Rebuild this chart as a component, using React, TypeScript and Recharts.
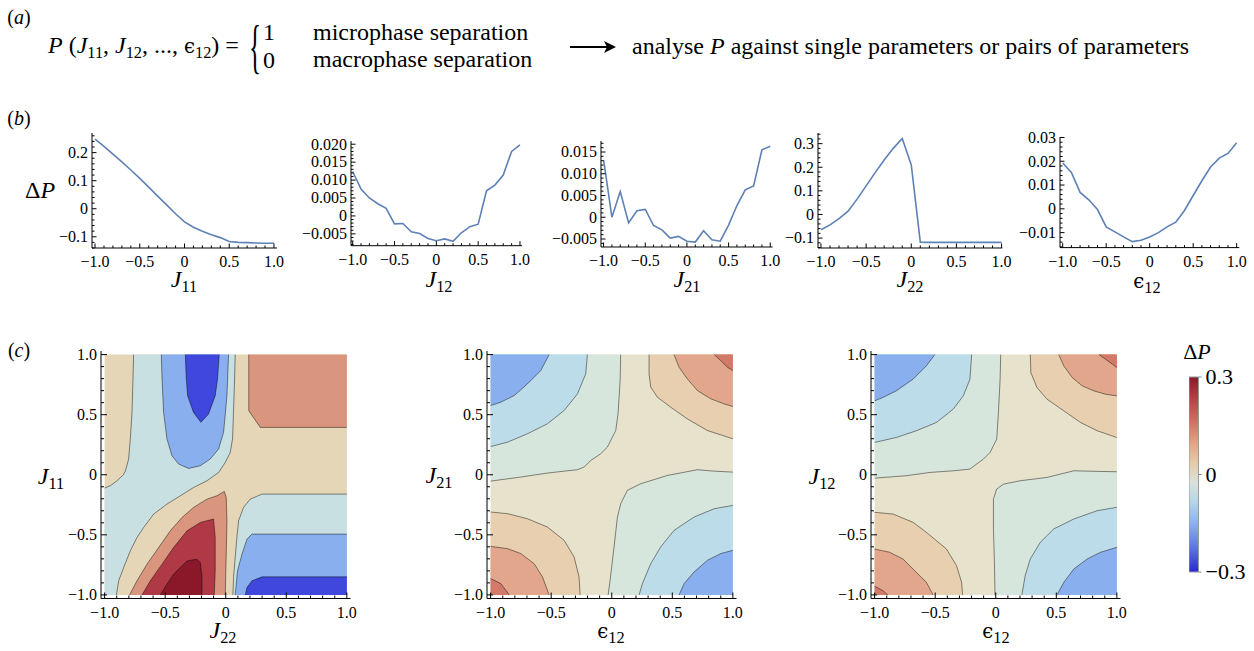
import React from 'react';
import { ComposedChart, LineChart, Line, Area, XAxis, YAxis, ReferenceArea } from 'recharts';

type Pt = [number, number];
interface Band {
  level: number;
  pts: Pt[];
}

const SERIF = '"Liberation Serif", "Times New Roman", Times, serif';
const INK = '#000';
const CURVE = '#5E81B5';

// (b) ΔP against one parameter, sampled every 0.1
const PARAM_STEPS = [-1, -0.9, -0.8, -0.7, -0.6, -0.5, -0.4, -0.3, -0.2, -0.1, 0, 0.1, 0.2, 0.3, 0.4, 0.5, 0.6, 0.7, 0.8, 0.9, 1];
const DP_J11 = [0.248, 0.222, 0.195, 0.167, 0.138, 0.108, 0.077, 0.045, 0.014, -0.018, -0.047, -0.066, -0.08, -0.093, -0.103, -0.117, -0.12, -0.121, -0.122, -0.123, -0.123];
const DP_J12 = [0.0124, 0.0075, 0.005, 0.0034, 0.0021, -0.0022, -0.0021, -0.0044, -0.0049, -0.0063, -0.0069, -0.0064, -0.0071, -0.0047, -0.003, -0.0023, 0.007, 0.0086, 0.0114, 0.018, 0.0198];
const DP_J21 = [0.0132, 0, 0.0059, -0.0013, 0.0015, 0.0018, -0.0019, -0.0029, -0.0048, -0.0044, -0.0055, -0.0057, -0.0031, -0.0052, -0.0055, -0.0018, 0.0027, 0.0063, 0.0072, 0.0155, 0.0163];
const DP_J22 = [-0.065, -0.044, -0.018, 0.014, 0.065, 0.121, 0.177, 0.231, 0.28, 0.322, 0.21, -0.117, -0.118, -0.118, -0.118, -0.118, -0.118, -0.118, -0.118, -0.118, -0.118];
const DP_EPS12 = [0.0193, 0.0153, 0.0069, 0.0038, -0.0003, -0.0076, -0.0097, -0.0118, -0.0138, -0.0132, -0.0118, -0.01, -0.0076, -0.0056, -0.0007, 0.0056, 0.0118, 0.0176, 0.0213, 0.0233, 0.0278];

// (c) contour bands: ΔP level of the band and its outline in parameter space
const MAP_J22_J11: Band[] = [
  { level: 0.05, pts: [[-1, -1], [1, -1], [1, 1], [-1, 1]] },
  { level: -0.05, pts: [[-1, -0.11], [-0.953, -0.092], [-0.898, -0.05], [-0.845, 0], [-0.829, 0.03], [-0.802, 0.131], [-0.788, 0.297], [-0.774, 0.519], [-0.766, 0.797], [-0.761, 1], [0.078, 1], [0.073, 0.797], [0.064, 0.519], [0.056, 0.297], [0.037, 0.186], [-0.004, 0.103], [-0.059, 0.019], [-0.155, -0.05], [-0.266, -0.106], [-0.375, -0.175], [-0.485, -0.244], [-0.596, -0.328], [-0.678, -0.439], [-0.733, -0.522], [-0.788, -0.633], [-0.843, -0.772], [-0.884, -0.883], [-0.903, -1], [-1, -1]] },
  { level: -0.05, pts: [[1, -0.161], [0.3, -0.161], [0.202, -0.203], [0.147, -0.272], [0.106, -0.383], [0.092, -0.522], [0.078, -0.689], [0.064, -0.856], [0.059, -1], [1, -1]] },
  { level: -0.15, pts: [[-0.532, 1], [-0.526, 0.797], [-0.513, 0.519], [-0.485, 0.297], [-0.444, 0.158], [-0.389, 0.089], [-0.307, 0.053], [-0.21, 0.075], [-0.128, 0.131], [-0.059, 0.214], [-0.018, 0.353], [0.01, 0.658], [0.023, 1]] },
  { level: -0.15, pts: [[1, -0.494], [0.216, -0.494], [0.175, -0.536], [0.134, -0.661], [0.097, -0.8], [0.078, -1], [1, -1]] },
  { level: -0.25, pts: [[-0.334, 1], [-0.326, 0.797], [-0.315, 0.658], [-0.266, 0.519], [-0.205, 0.436], [-0.142, 0.506], [-0.087, 0.658], [-0.068, 0.797], [-0.054, 1]] },
  { level: -0.25, pts: [[1, -0.85], [0.3, -0.85], [0.216, -0.883], [0.175, -0.939], [0.161, -1], [1, -1]] },
  { level: 0.15, pts: [[0.19, 1], [0.19, 0.533], [0.285, 0.394], [1, 0.394], [1, 1]] },
  { level: 0.15, pts: [[-0.794, -1], [-0.733, -0.883], [-0.65, -0.744], [-0.554, -0.606], [-0.458, -0.467], [-0.361, -0.356], [-0.266, -0.272], [-0.155, -0.203], [-0.073, -0.175], [-0.012, -0.139], [0.004, -0.189], [0.01, -0.383], [0.004, -0.661], [-0.004, -1]] },
  { level: 0.22, pts: [[-0.691, -1], [-0.623, -0.883], [-0.526, -0.744], [-0.431, -0.606], [-0.32, -0.467], [-0.21, -0.397], [-0.101, -0.369], [-0.087, -0.522], [-0.087, -0.8], [-0.095, -1]] },
  { level: 0.28, pts: [[-0.54, -1], [-0.485, -0.911], [-0.431, -0.828], [-0.375, -0.772], [-0.32, -0.717], [-0.238, -0.703], [-0.21, -0.731], [-0.196, -0.856], [-0.196, -1]] },
];

const MAP_EPS_J21: Band[] = [
  { level: 0.02, pts: [[-1, -1], [1, -1], [1, 1], [-1, 1]] },
  { level: -0.03, pts: [[-1, -0.053], [-0.751, -0.019], [-0.531, 0.014], [-0.393, 0.03], [-0.283, 0.042], [-0.228, 0.064], [-0.173, 0.119], [-0.091, 0.175], [-0.036, 0.23], [0.033, 0.368], [0.052, 0.507], [0.069, 0.784], [0.074, 1], [-1, 1]] },
  { level: -0.09, pts: [[-1, 0.235], [-0.861, 0.271], [-0.696, 0.341], [-0.531, 0.424], [-0.393, 0.535], [-0.283, 0.673], [-0.215, 0.839], [-0.201, 1], [-1, 1]] },
  { level: -0.15, pts: [[-1, 0.576], [-0.916, 0.604], [-0.806, 0.659], [-0.696, 0.756], [-0.586, 0.867], [-0.517, 1], [-1, 1]] },
  { level: -0.03, pts: [[1, -1], [1, 0.022], [0.845, 0.03], [0.707, 0.042], [0.459, -0.006], [0.239, -0.075], [0.129, -0.13], [0.074, -0.241], [0.047, -0.352], [0.019, -0.601], [-0.017, -0.906], [-0.03, -1]] },
  { level: -0.09, pts: [[1, -1], [1, -0.255], [0.845, -0.283], [0.68, -0.352], [0.514, -0.463], [0.404, -0.601], [0.322, -0.74], [0.253, -0.906], [0.226, -1]] },
  { level: -0.15, pts: [[1, -1], [1, -0.629], [0.9, -0.656], [0.79, -0.712], [0.68, -0.809], [0.597, -0.906], [0.556, -1]] },
  { level: 0.07, pts: [[1, 1], [0.308, 1], [0.308, 0.839], [0.322, 0.729], [0.377, 0.645], [0.487, 0.562], [0.624, 0.465], [0.79, 0.368], [1, 0.299]] },
  { level: 0.12, pts: [[1, 1], [0.514, 1], [0.556, 0.895], [0.624, 0.798], [0.707, 0.701], [0.817, 0.632], [0.927, 0.59], [1, 0.568]] },
  { level: 0.17, pts: [[1, 1], [0.845, 1], [0.9, 0.95], [0.955, 0.895], [1, 0.867]] },
  { level: 0.07, pts: [[-1, -1], [-1, -0.31], [-0.861, -0.324], [-0.696, -0.366], [-0.531, -0.435], [-0.393, -0.546], [-0.311, -0.684], [-0.27, -0.85], [-0.261, -1]] },
  { level: 0.12, pts: [[-1, -1], [-1, -0.596], [-0.861, -0.615], [-0.751, -0.656], [-0.641, -0.74], [-0.572, -0.85], [-0.517, -1]] },
  { level: 0.17, pts: [[-1, -1], [-1, -0.864], [-0.916, -0.906], [-0.875, -0.961], [-0.847, -1]] },
];

const MAP_EPS_J12: Band[] = [
  { level: 0.02, pts: [[-1, -1], [1, -1], [1, 1], [-1, 1]] },
  { level: -0.03, pts: [[-1, -0.028], [-0.739, -0.008], [-0.545, 0.019], [-0.351, 0.033], [-0.213, 0.047], [-0.158, 0.089], [-0.102, 0.13], [-0.047, 0.186], [0.008, 0.296], [0.022, 0.518], [0.036, 0.795], [0.041, 1], [-1, 1]] },
  { level: -0.09, pts: [[-1, 0.269], [-0.822, 0.31], [-0.656, 0.366], [-0.49, 0.435], [-0.351, 0.546], [-0.268, 0.657], [-0.213, 0.795], [-0.199, 1], [-1, 1]] },
  { level: -0.15, pts: [[-1, 0.615], [-0.932, 0.643], [-0.822, 0.698], [-0.683, 0.795], [-0.573, 0.906], [-0.503, 1], [-1, 1]] },
  { level: -0.03, pts: [[1, -1], [1, 0.025], [0.838, 0.028], [0.645, 0.033], [0.423, -0.022], [0.202, -0.05], [0.064, -0.078], [0.008, -0.119], [-0.019, -0.202], [-0.019, -0.451], [-0.011, -0.729], [-0.006, -1]] },
  { level: -0.09, pts: [[1, -1], [1, -0.271], [0.838, -0.299], [0.645, -0.368], [0.479, -0.451], [0.368, -0.562], [0.285, -0.701], [0.243, -0.839], [0.216, -1]] },
  { level: -0.15, pts: [[1, -1], [1, -0.604], [0.866, -0.645], [0.755, -0.701], [0.645, -0.784], [0.562, -0.895], [0.506, -1]] },
  { level: 0.07, pts: [[1, 1], [0.285, 1], [0.29, 0.85], [0.34, 0.726], [0.423, 0.629], [0.562, 0.532], [0.7, 0.435], [0.838, 0.366], [1, 0.31]] },
  { level: 0.12, pts: [[1, 1], [0.52, 1], [0.562, 0.906], [0.631, 0.809], [0.714, 0.74], [0.811, 0.698], [0.907, 0.67], [1, 0.657]] },
  { level: 0.17, pts: [[1, 1], [0.852, 1], [0.907, 0.961], [0.963, 0.92], [1, 0.892]] },
  { level: 0.07, pts: [[-1, -1], [-1, -0.313], [-0.849, -0.327], [-0.683, -0.396], [-0.573, -0.479], [-0.407, -0.618], [-0.324, -0.756], [-0.282, -0.895], [-0.274, -1]] },
  { level: 0.12, pts: [[-1, -1], [-1, -0.618], [-0.877, -0.645], [-0.766, -0.701], [-0.656, -0.812], [-0.573, -0.895], [-0.517, -1]] },
  { level: 0.17, pts: [[-1, -1], [-1, -0.928], [-0.932, -0.964], [-0.891, -1]] },
];

const COLORBAR_TICKS = [-0.3, 0, 0.3];

// thermometer-like fills for each contour level
const BAND_FILL: Record<string, string> = {
  '-0.25': '#3F47DC',
  '-0.15': '#8AAFEF',
  '-0.09': '#BCDCEA',
  '-0.05': '#C9E0E3',
  '-0.03': '#D7E6DD',
  '0.02': '#E6E2CC',
  '0.05': '#E5D6B8',
  '0.07': '#E8CFAF',
  '0.12': '#E1A68B',
  '0.15': '#D9957E',
  '0.17': '#D27A69',
  '0.22': '#AF3A45',
  '0.28': '#8A1829',
};

const range = (a: number, b: number, step: number) => {
  const out: number[] = [];
  const n = Math.round((b - a) / step);
  for (let i = 0; i <= n; i++) out.push(+(a + i * step).toFixed(5));
  return out;
};
const onMultiple = (v: number, m: number) => Math.abs(v / m - Math.round(v / m)) < 1e-6;
const fmt = (digits: number) => (v: number) =>
  Math.abs(v) < 1e-9 ? '0' : v.toFixed(digits).replace('-', '\u2212');

const X_TICKS = range(-1, 1, 0.1);

type Side = 'bottom' | 'top' | 'left' | 'right';
function tickRenderer(side: Side, major: number, label: ((v: number) => string) | null, majLen: number, minLen: number, fontSize = 16) {
  return (p: any) => {
    const { x, y, payload } = p;
    const v = payload.value as number;
    const isMajor = onMultiple(v, major);
    const len = isMajor ? majLen : minLen;
    let x2 = x;
    let y2 = y;
    if (side === 'bottom') y2 = y - len;
    else if (side === 'top') y2 = y + len;
    else if (side === 'left') x2 = x + len;
    else x2 = x - len;
    let text = null;
    if (label && isMajor && side === 'bottom') {
      text = (
        <text x={x} y={y + fontSize * 1.2} textAnchor="middle" fontSize={fontSize} fontFamily={SERIF} fill={INK}>
          {label(v)}
        </text>
      );
    } else if (label && isMajor && side === 'left') {
      text = (
        <text x={x - 4} y={y + fontSize * 0.33} textAnchor="end" fontSize={fontSize} fontFamily={SERIF} fill={INK}>
          {label(v)}
        </text>
      );
    }
    return (
      <g>
        <line x1={x} y1={y} x2={x2} y2={y2} stroke={INK} strokeWidth={1} />
        {text}
      </g>
    );
  };
}

// split a band outline into the parts that are real contour lines (not the plot border)
const onBorder = (a: Pt, b: Pt) =>
  (Math.abs(a[0]) > 0.999 && Math.abs(b[0]) > 0.999 && a[0] * b[0] > 0) ||
  (Math.abs(a[1]) > 0.999 && Math.abs(b[1]) > 0.999 && a[1] * b[1] > 0);

function contourRuns(pts: Pt[]): Pt[][] {
  const runs: Pt[][] = [];
  let cur: Pt[] = [];
  for (let i = 0; i < pts.length; i++) {
    const a = pts[i];
    const b = pts[(i + 1) % pts.length];
    if (onBorder(a, b)) {
      if (cur.length) runs.push(cur);
      cur = [];
      continue;
    }
    if (!cur.length) cur.push(a);
    cur.push(b);
  }
  if (cur.length) runs.push(cur);
  return runs;
}

const toRows = (pts: Pt[]) => pts.map(([x, y]) => ({ x, y }));

function Pos({ x, y, anchor = 'middle', size = 24, children, style }: any) {
  const tx = anchor === 'middle' ? '-50%' : anchor === 'end' ? '-100%' : '0';
  return (
    <div
      style={{
        position: 'absolute',
        left: x,
        top: y,
        transform: `translate(${tx}, -50%)`,
        fontSize: size,
        lineHeight: 1,
        fontFamily: SERIF,
        whiteSpace: 'nowrap',
        color: INK,
        ...style,
      }}
    >
      {children}
    </div>
  );
}

function Sym({ base, sub, italic = true }: { base: string; sub: string; italic?: boolean }) {
  const baseStyle = italic
    ? { fontStyle: 'italic' as const }
    : { fontFamily: '"DejaVu Serif", serif', fontSize: '0.82em' };
  return (
    <span>
      <span style={baseStyle}>{base}</span>
      <span style={{ fontSize: '0.68em', position: 'relative', top: '0.3em' }}>{sub}</span>
    </span>
  );
}

interface ScanCfg {
  values: number[];
  rect: [number, number, number, number];
  xDom: [number, number];
  yDom: [number, number];
  major: number;
  minor: number;
  digits: number;
}

const SCANS: ScanCfg[] = [
  { values: DP_J11, rect: [92, 133, 277, 248], xDom: [-1.034, 1.034], yDom: [-0.14, 0.27], major: 0.1, minor: 0.02, digits: 1 },
  { values: DP_J12, rect: [351, 141, 522, 245.7], xDom: [-1.02, 1.024], yDom: [-0.0083, 0.0209], major: 0.005, minor: 0.001, digits: 3 },
  { values: DP_J21, rect: [600.7, 140.7, 772.3, 246.7], xDom: [-1.031, 1.028], yDom: [-0.00684, 0.01753], major: 0.005, minor: 0.001, digits: 3 },
  { values: DP_J22, rect: [817.7, 133.3, 1002, 248.3], xDom: [-1.033, 1.008], yDom: [-0.142, 0.345], major: 0.1, minor: 0.02, digits: 1 },
  { values: DP_EPS12, rect: [1060, 136.7, 1239.3, 247.3], xDom: [-1.031, 1.03], yDom: [-0.0163, 0.0302], major: 0.01, minor: 0.002, digits: 2 },
];

function ScanPlot({ cfg }: { cfg: ScanCfg }) {
  const padL = 70, padR = 14, padT = 12, padB = 30;
  const [x0, y0, x1, y1] = cfg.rect;
  const data = PARAM_STEPS.map((x, i) => ({ x, y: cfg.values[i] }));
  const yTicks = range(
    Math.ceil(cfg.yDom[0] / cfg.minor - 1e-9) * cfg.minor,
    Math.floor(cfg.yDom[1] / cfg.minor + 1e-9) * cfg.minor,
    cfg.minor
  );
  return (
    <div style={{ position: 'absolute', left: x0 - padL, top: y0 - padT }}>
      <LineChart width={x1 - x0 + padL + padR} height={y1 - y0 + padT + padB} data={data} margin={{ top: padT, right: padR, left: 0, bottom: 0 }}>
        <XAxis
          type="number"
          dataKey="x"
          domain={cfg.xDom}
          allowDataOverflow
          ticks={X_TICKS}
          interval={0}
          height={padB}
          tickLine={false}
          tickSize={0}
          tickMargin={0}
          axisLine={{ stroke: INK }}
          tick={tickRenderer('bottom', 0.5, fmt(1), 4.5, 2.5)}
        />
        <YAxis
          type="number"
          domain={cfg.yDom}
          allowDataOverflow
          ticks={yTicks}
          interval={0}
          width={padL}
          tickLine={false}
          tickSize={0}
          tickMargin={0}
          axisLine={{ stroke: INK }}
          tick={tickRenderer('left', cfg.major, fmt(cfg.digits), 4.5, 2.5)}
        />
        <Line type="linear" dataKey="y" stroke={CURVE} strokeWidth={1.6} dot={false} activeDot={false} isAnimationActive={false} />
      </LineChart>
    </div>
  );
}

const FRAME_DOM: [number, number] = [-1.03, 1.03];

function ContourPlot({ bands, rect }: { bands: Band[]; rect: [number, number, number, number] }) {
  const padL = 60, padR = 14, padT = 12, padB = 32;
  const [x0, y0, x1, y1] = rect;
  const runs = bands.flatMap((b) => contourRuns(b.pts));
  const frameTick = (side: Side, label: boolean) => tickRenderer(side, 0.5, label ? fmt(1) : null, 6, 3);
  return (
    <div style={{ position: 'absolute', left: x0 - padL, top: y0 - padT }}>
      <ComposedChart width={x1 - x0 + padL + padR} height={y1 - y0 + padT + padB} margin={{ top: padT, right: padR, left: 0, bottom: 0 }}>
        <XAxis xAxisId="b" type="number" dataKey="x" domain={FRAME_DOM} allowDataOverflow ticks={X_TICKS} interval={0} height={padB} tickLine={false} tickSize={0} tickMargin={0} axisLine={{ stroke: INK }} tick={frameTick('bottom', true)} />
        <XAxis xAxisId="t" orientation="top" type="number" dataKey="x" domain={FRAME_DOM} allowDataOverflow ticks={X_TICKS} interval={0} height={0} tickLine={false} tickSize={0} tickMargin={0} axisLine={{ stroke: INK }} tick={frameTick('top', false)} />
        <YAxis yAxisId="l" type="number" domain={FRAME_DOM} allowDataOverflow ticks={X_TICKS} interval={0} width={padL} tickLine={false} tickSize={0} tickMargin={0} axisLine={{ stroke: INK }} tick={frameTick('left', true)} />
        <YAxis yAxisId="r" orientation="right" type="number" domain={FRAME_DOM} allowDataOverflow ticks={X_TICKS} interval={0} width={0} tickLine={false} tickSize={0} tickMargin={0} axisLine={{ stroke: INK }} tick={frameTick('right', false)} />
        {bands.map((b, i) => (
          <Area
            key={`band-${i}`}
            xAxisId="b"
            yAxisId="l"
            data={toRows([...b.pts, b.pts[0]])}
            dataKey="y"
            type="linear"
            fill={BAND_FILL[String(b.level)]}
            fillOpacity={1}
            stroke="none"
            dot={false}
            activeDot={false}
            isAnimationActive={false}
          />
        ))}
        {runs.map((r, i) => (
          <Line
            key={`iso-${i}`}
            xAxisId="b"
            yAxisId="l"
            data={toRows(r)}
            dataKey="y"
            type="linear"
            stroke="#000"
            strokeOpacity={0.45}
            strokeWidth={1}
            dot={false}
            activeDot={false}
            isAnimationActive={false}
          />
        ))}
      </ComposedChart>
    </div>
  );
}

function ColorBar() {
  const x0 = 1188.5, y0 = 376.7, x1 = 1198, y1 = 571.7;
  const padT = 12, padB = 12, padR = 56;
  const tick = (p: any) => {
    const { x, y, payload } = p;
    return (
      <g>
        <line x1={x} y1={y} x2={x + 3} y2={y} stroke="#888" strokeWidth={1} />
        <text x={x + 7} y={y + 7.3} fontSize={22} fontFamily={SERIF} fill={INK}>
          {fmt(1)(payload.value)}
        </text>
      </g>
    );
  };
  return (
    <div style={{ position: 'absolute', left: x0, top: y0 - padT }}>
      <ComposedChart width={x1 - x0 + padR} height={y1 - y0 + padT + padB} margin={{ top: padT, right: 0, left: 0, bottom: padB }}>
        <defs>
          <linearGradient id="dpGrad" x1="0" y1="0" x2="0" y2="1">
            <stop offset="0%" stopColor="#8C1A2B" />
            <stop offset="10%" stopColor="#B33C44" />
            <stop offset="22%" stopColor="#D06C5E" />
            <stop offset="33%" stopColor="#E0A080" />
            <stop offset="44%" stopColor="#E6CBA7" />
            <stop offset="54%" stopColor="#D9E2DA" />
            <stop offset="64%" stopColor="#B5D6E8" />
            <stop offset="76%" stopColor="#88AEEE" />
            <stop offset="88%" stopColor="#5A74E2" />
            <stop offset="100%" stopColor="#2A28CF" />
          </linearGradient>
        </defs>
        <XAxis type="number" dataKey="x" domain={[0, 1]} allowDataOverflow hide />
        <YAxis
          orientation="right"
          type="number"
          domain={[-0.3, 0.3]}
          allowDataOverflow
          ticks={COLORBAR_TICKS}
          interval={0}
          width={padR}
          axisLine={false}
          tickLine={false}
          tickSize={0}
          tickMargin={0}
          tick={tick}
        />
        <ReferenceArea x1={0} x2={1} y1={-0.3} y2={0.3} fill="url(#dpGrad)" fillOpacity={1} stroke="#999" strokeWidth={1} ifOverflow="extendDomain" />
      </ComposedChart>
    </div>
  );
}

export default function App() {
  return (
    <div style={{ position: 'absolute', left: 0, top: 0, width: 1254, height: 651, background: '#fff', overflow: 'hidden', fontFamily: SERIF }}>
      {/* (a) */}
      <Pos x={19} y={17} size={20}>
        (<i>a</i>)
      </Pos>
      <Pos x={48} y={45} anchor="start" size={24}>
        <i>P</i> (<Sym base="J" sub="11" />, <Sym base="J" sub="12" />, ..., <Sym base="ϵ" sub="12" italic={false} />) =
      </Pos>
      <Pos x={255} y={46} size={60} style={{ transform: 'translate(-50%, -50%) scaleX(0.42)' }}>
        {'{'}
      </Pos>
      <Pos x={263} y={32} anchor="start" size={24}>1</Pos>
      <Pos x={263} y={60} anchor="start" size={24}>0</Pos>
      <Pos x={313} y={32} anchor="start" size={24}>microphase separation</Pos>
      <Pos x={313} y={59} anchor="start" size={24}>macrophase separation</Pos>
      <svg style={{ position: 'absolute', left: 566, top: 38 }} width={54} height={18}>
        <line x1={4} y1={9} x2={42} y2={9} stroke={INK} strokeWidth={2} />
        <polygon points="50,9 38,3 41,9 38,15" fill={INK} />
      </svg>
      <Pos x={632} y={46} anchor="start" size={24}>
        analyse <i>P</i> against single parameters or pairs of parameters
      </Pos>

      {/* (b) */}
      <Pos x={19} y={118} size={20}>
        (<i>b</i>)
      </Pos>
      <Pos x={40} y={190} size={24}>
        Δ<i>P</i>
      </Pos>
      {SCANS.map((cfg, i) => (
        <ScanPlot key={i} cfg={cfg} />
      ))}
      <Pos x={184} y={279} size={24}><Sym base="J" sub="11" /></Pos>
      <Pos x={439} y={279} size={24}><Sym base="J" sub="12" /></Pos>
      <Pos x={687} y={279} size={24}><Sym base="J" sub="21" /></Pos>
      <Pos x={910} y={279} size={24}><Sym base="J" sub="22" /></Pos>
      <Pos x={1147} y={280} size={24}><Sym base="ϵ" sub="12" italic={false} /></Pos>

      {/* (c) */}
      <Pos x={19} y={350} size={20}>
        (<i>c</i>)
      </Pos>
      <ContourPlot bands={MAP_J22_J11} rect={[100.5, 350.5, 350, 598]} />
      <ContourPlot bands={MAP_EPS_J21} rect={[486.5, 350.5, 736, 598]} />
      <ContourPlot bands={MAP_EPS_J12} rect={[871, 350.5, 1120.5, 598]} />
      <Pos x={51} y={476} size={24}><Sym base="J" sub="11" /></Pos>
      <Pos x={223} y={630} size={24}><Sym base="J" sub="22" /></Pos>
      <Pos x={439} y={475} size={24}><Sym base="J" sub="21" /></Pos>
      <Pos x={611} y={630} size={24}><Sym base="ϵ" sub="12" italic={false} /></Pos>
      <Pos x={822} y={476} size={24}><Sym base="J" sub="12" /></Pos>
      <Pos x={996} y={630} size={24}><Sym base="ϵ" sub="12" italic={false} /></Pos>

      <Pos x={1197} y={352} size={22}>
        Δ<i>P</i>
      </Pos>
      <ColorBar />
    </div>
  );
}
